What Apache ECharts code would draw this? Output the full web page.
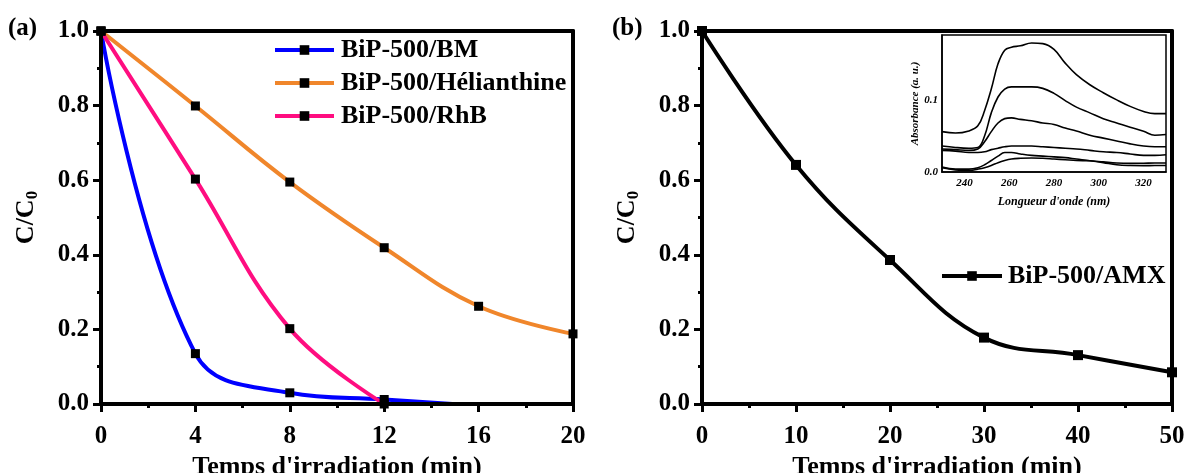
<!DOCTYPE html>
<html><head><meta charset="utf-8">
<script src="https://cdn.jsdelivr.net/npm/echarts@6/dist/echarts.min.js"></script>
<style>html,body{margin:0;padding:0;background:#fff}#c{width:1185px;height:473px}</style>
</head><body><div id="c"></div>
<script>
// ---- Panel (a) data ----
const timeA = [0, 4, 8, 12, 16, 20];
const bmValues = [1.0, 0.135, 0.030, 0.012, -0.005];
const helianthineValues = [1.0, 0.799, 0.595, 0.419, 0.262, 0.188];
const rhbValues = [1.0, 0.603, 0.202, 0.0];
const seriesNamesA = ['BiP-500/BM', 'BiP-500/Hélianthine', 'BiP-500/RhB'];
// ---- Panel (b) data ----
const timeB = [0, 10, 20, 30, 40, 50];
const amxValues = [1.0, 0.641, 0.386, 0.178, 0.131, 0.085];
const seriesNameB = 'BiP-500/AMX';
// ---- Inset spectra ----
const wavelength = [230, 236, 242, 246, 249, 252, 255, 258, 261, 265, 270, 275, 280, 285, 290, 296, 302, 308, 314, 320, 325, 330];
const spectrum1 = [0.056, 0.054, 0.057, 0.064, 0.085, 0.115, 0.150, 0.169, 0.173, 0.175, 0.179, 0.178, 0.170, 0.151, 0.135, 0.121, 0.110, 0.100, 0.091, 0.084, 0.081, 0.081];
const spectrum2 = [0.036, 0.034, 0.033, 0.034, 0.050, 0.082, 0.104, 0.115, 0.118, 0.118, 0.118, 0.116, 0.109, 0.099, 0.090, 0.082, 0.074, 0.068, 0.062, 0.0565, 0.051, 0.052];
const spectrum3 = [0.032, 0.031, 0.030, 0.032, 0.042, 0.056, 0.068, 0.074, 0.075, 0.073, 0.071, 0.068, 0.066, 0.061, 0.057, 0.051, 0.047, 0.043, 0.039, 0.036, 0.035, 0.035];
const spectrum4 = [0.030, 0.029, 0.027, 0.027, 0.028, 0.031, 0.033, 0.035, 0.036, 0.036, 0.036, 0.035, 0.034, 0.033, 0.032, 0.030, 0.028, 0.027, 0.025, 0.023, 0.023, 0.024];
const spectrum5 = [0.007, 0.004, 0.004, 0.006, 0.010, 0.016, 0.022, 0.027, 0.027, 0.025, 0.023, 0.022, 0.021, 0.020, 0.018, 0.0157, 0.013, 0.010, 0.009, 0.0088, 0.009, 0.009];
const spectrum6 = [0.006, 0.003, 0.002, 0.004, 0.006, 0.009, 0.013, 0.016, 0.018, 0.019, 0.0195, 0.019, 0.018, 0.017, 0.016, 0.0155, 0.014, 0.0125, 0.012, 0.0122, 0.0125, 0.0125];
const insetXTicks = [240, 260, 280, 300, 320];
const insetYTicks = [0, 0.1];

const FF = 'Liberation Serif';
const pairs = (xs, ys) => ys.map((v, i) => [xs[i], v]);

function mainX(gridIndex, max, interval) {
  return [{
    gridIndex, type: 'value', min: 0, max, interval, position: 'bottom', zlevel: 1, z: 10,
    axisLine: { show: true, onZero: false, lineStyle: { color: '#000', width: 4 } },
    axisTick: { show: true, inside: false, length: 8, lineStyle: { color: '#000', width: 3 } },
    minorTick: { show: true, splitNumber: 2, length: 4, lineStyle: { color: '#000', width: 3 } },
    splitLine: { show: false },
    axisLabel: { color: '#000', fontFamily: FF, fontWeight: 'bold', fontSize: 25, margin: 20 },
    name: "Temps d'irradiation (min)", nameLocation: 'middle', nameGap: 46,
    nameTextStyle: { color: '#000', fontFamily: FF, fontWeight: 'bold', fontSize: 26 }
  }, {
    gridIndex, type: 'value', min: 0, max, position: 'top', zlevel: 1, z: 10,
    axisLine: { show: true, onZero: false, lineStyle: { color: '#000', width: 4 } },
    axisTick: { show: false }, axisLabel: { show: false }, splitLine: { show: false }
  }];
}
function mainY(gridIndex) {
  return [{
    gridIndex, type: 'value', min: 0, max: 1, interval: 0.2, position: 'left', zlevel: 1, z: 10,
    axisLine: { show: true, onZero: false, lineStyle: { color: '#000', width: 4 } },
    axisTick: { show: true, inside: false, length: 8, lineStyle: { color: '#000', width: 3 } },
    minorTick: { show: true, splitNumber: 2, length: 4, lineStyle: { color: '#000', width: 3 } },
    splitLine: { show: false },
    axisLabel: { color: '#000', fontFamily: FF, fontWeight: 'bold', fontSize: 25, margin: 12, formatter: v => v.toFixed(1) },
    name: '{a|C/C}{b|0}', nameLocation: 'middle', nameGap: 60,
    nameTextStyle: { color: '#000', rich: {
      a: { fontFamily: FF, fontWeight: 'bold', fontSize: 26, color: '#000' },
      b: { fontFamily: FF, fontWeight: 'bold', fontSize: 17, color: '#000', padding: [12, 0, 0, 0] }
    } }
  }, {
    gridIndex, type: 'value', min: 0, max: 1, position: 'right', zlevel: 1, z: 10,
    axisLine: { show: true, onZero: false, lineStyle: { color: '#000', width: 4 } },
    axisTick: { show: false }, axisLabel: { show: false }, splitLine: { show: false }
  }];
}

const insetFont = { color: '#000', fontFamily: FF, fontWeight: 'bold', fontStyle: 'italic' };
const spectra = [spectrum1, spectrum2, spectrum3, spectrum4, spectrum5, spectrum6];
const legendText = { color: '#000', fontFamily: FF, fontWeight: 'bold', fontSize: 26 };

const option = {
  backgroundColor: '#fff',
  animation: false,
  grid: [
    { left: 101, top: 31, width: 472, height: 373, outerBoundsMode: 'none', containLabel: false },
    { left: 702, top: 31, width: 470, height: 373, outerBoundsMode: 'none', containLabel: false },
    { left: 942, top: 35, width: 224, height: 137, outerBoundsMode: 'none', containLabel: false,
      show: true, backgroundColor: '#fff', borderColor: '#000', borderWidth: 1.5, z: 11 }
  ],
  xAxis: [
    ...mainX(0, 20, 4),
    ...mainX(1, 50, 10),
    {
      gridIndex: 2, type: 'value', min: 230, max: 330, z: 12,
      axisLine: { show: true, onZero: false, lineStyle: { color: '#000', width: 1.5 } },
      axisTick: { show: false },
      splitLine: { show: false },
      axisLabel: { ...insetFont, fontSize: 11, margin: 6, customValues: insetXTicks },
      name: "Longueur d'onde (nm)", nameLocation: 'middle', nameGap: 24,
      nameTextStyle: { ...insetFont, fontSize: 12 }
    }
  ],
  yAxis: [
    ...mainY(0),
    ...mainY(1),
    {
      gridIndex: 2, type: 'value', min: 0, max: 0.19, z: 12,
      axisLine: { show: true, onZero: false, lineStyle: { color: '#000', width: 1.5 } },
      axisTick: { show: false },
      splitLine: { show: false },
      axisLabel: { ...insetFont, fontSize: 11, margin: 4, customValues: insetYTicks, formatter: v => v.toFixed(1) },
      name: 'Absorbance (a. u.)', nameLocation: 'middle', nameGap: 19,
      nameTextStyle: { ...insetFont, fontSize: 11 }
    }
  ],
  legend: [
    {
      data: seriesNamesA, orient: 'vertical', left: 268, top: 32, itemGap: 7,
      itemWidth: 59, itemHeight: 12,
      lineStyle: { width: 4 },
      textStyle: { ...legendText, padding: [0, 0, 0, 2] }
    },
    {
      data: [seriesNameB], orient: 'vertical', left: 935, top: 258,
      itemWidth: 60, itemHeight: 12,
      lineStyle: { width: 4 },
      textStyle: { ...legendText, padding: [0, 0, 0, 1] }
    }
  ],
  graphic: [
    { type: 'text', left: 8, top: 16, style: { text: '(a)', font: 'bold 25px "Liberation Serif"', fill: '#000' } },
    { type: 'text', left: 612, top: 16, style: { text: '(b)', font: 'bold 25px "Liberation Serif"', fill: '#000' } }
  ],
  series: [
    { type: 'line', name: seriesNamesA[0], xAxisIndex: 0, yAxisIndex: 0, data: pairs(timeA, bmValues), smooth: 0.4,
      symbol: 'rect', symbolSize: 9, itemStyle: { color: '#000' }, lineStyle: { color: '#0000FF', width: 4 }, z: 2 },
    { type: 'line', name: seriesNamesA[1], xAxisIndex: 0, yAxisIndex: 0, data: pairs(timeA, helianthineValues), smooth: 0.4,
      symbol: 'rect', symbolSize: 9, itemStyle: { color: '#000' }, lineStyle: { color: '#F0862B', width: 4 }, z: 2 },
    { type: 'line', name: seriesNamesA[2], xAxisIndex: 0, yAxisIndex: 0, data: pairs(timeA, rhbValues), smooth: 0.4,
      symbol: 'rect', symbolSize: 9, itemStyle: { color: '#000' }, lineStyle: { color: '#FF0D80', width: 4 }, z: 2 },
    { type: 'line', name: seriesNameB, xAxisIndex: 2, yAxisIndex: 2, data: pairs(timeB, amxValues), smooth: 0.4,
      symbol: 'rect', symbolSize: 10, itemStyle: { color: '#000' }, lineStyle: { color: '#000', width: 4 }, z: 2 },
    ...spectra.map((s, i) => ({
      type: 'line', name: 'spectre ' + (i + 1), xAxisIndex: 4, yAxisIndex: 4, data: pairs(wavelength, s), smooth: 0.4,
      symbol: 'none', lineStyle: { color: '#000', width: 1.6 }, z: 13, silent: true
    }))
  ]
};
echarts.init(document.getElementById('c'), null, { renderer: 'canvas' }).setOption(option);
</script></body></html>
